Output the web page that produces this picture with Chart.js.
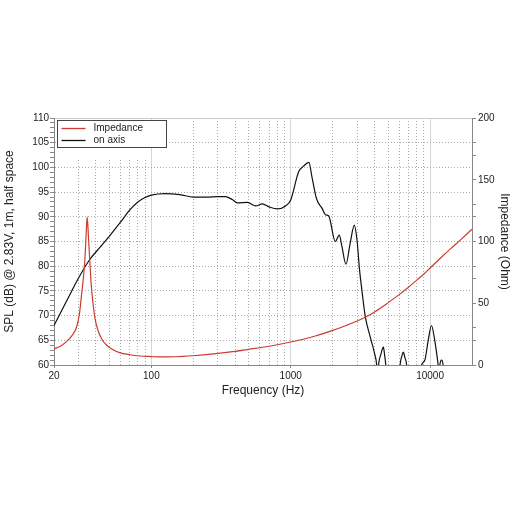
<!DOCTYPE html>
<html><head><meta charset="utf-8">
<script src="https://cdn.jsdelivr.net/npm/chart.js@4.4.0/dist/chart.umd.min.js"></script>
<style>html,body{margin:0;padding:0;background:#fff;}#wrap{width:512px;height:512px;}</style>
</head><body><div id="wrap"><canvas id="c" width="512" height="512"></canvas></div>
<script>
// ---- data ----
const seriesNames = ['Impedance', 'on axis'];

const splFreq = [20, 25, 30, 36, 43, 50, 60, 70, 80, 90, 100, 125, 160, 200, 250, 300, 340, 380, 415, 490, 560, 625, 700, 800, 920, 1000, 1140, 1240, 1350, 1420, 1530, 1680, 1775, 1870, 2090, 2230, 2330, 2490, 2670, 2860, 2990, 3120, 3240, 3430, 3720, 3990, 4140, 4200, 4270, 4450, 4624, 4720, 4810, 4900, 5500, 6000, 6095, 6300, 6430, 6600, 6790, 6900, 8000, 8600, 8690, 9180, 9700, 10240, 10800, 11200, 11430, 11600, 11750, 12080, 12400, 12600, 13000];
const splDb   = [68, 73.3, 77.6, 81.3, 83.9, 86.1, 88.9, 91.4, 93.0, 93.9, 94.4, 94.7, 94.5, 94.0, 94.0, 94.1, 94.1, 93.5, 92.8, 92.9, 92.2, 92.6, 92.0, 91.6, 92.2, 93.4, 99.1, 100.3, 101.0, 98.1, 93.7, 91.7, 90.4, 90.2, 85.0, 86.3, 84.0, 80.4, 84.6, 88.3, 85.3, 79.2, 75.2, 69.8, 65.7, 62.4, 60, 57, 60, 62.3, 63.6, 62, 60, 56, 50, 57, 60, 62, 62.6, 61.5, 60, 57, 50, 59, 60, 61, 65, 68, 65, 62, 60, 58.5, 60, 61, 60, 55, 50];

const impFreq = [20, 22, 24.6, 27, 29.1, 30.5, 31.6, 32.6, 33.3, 34, 34.6, 35.3, 36.1, 37, 38.1, 39.5, 41.3, 44, 47.5, 52, 59.2, 70, 82.6, 100, 115, 150, 197, 280, 382, 502, 700, 1000, 1500, 2000, 2500, 3000, 3500, 4000, 5000, 6000, 7000, 8000, 9000, 10000, 12000, 14000, 17000, 20000];
const impOhm  = [13, 15, 18.9, 24, 31, 42, 58, 72, 85, 105, 120, 105, 85, 65, 50, 37, 28.3, 21, 16.2, 13, 10, 8.3, 7.3, 6.8, 6.5, 6.7, 7.5, 9, 10.8, 12.7, 15.2, 18.6, 23.5, 28, 32, 35.6, 39.3, 43, 50.5, 57, 63, 68.5, 73.5, 78.5, 87, 94, 102.5, 110];

const xTickValues = [20, 30, 40, 50, 60, 70, 80, 90, 100, 200, 300, 400, 500, 600, 700, 800, 900, 1000, 2000, 3000, 4000, 5000, 6000, 7000, 8000, 9000, 10000, 20000];
const xTickLabels = [20, 100, 1000, 10000];
const xDecadeLines = [100, 1000, 10000];
const leftTicks = [60,61,62,63,64,65,66,67,68,69,70,71,72,73,74,75,76,77,78,79,80,81,82,83,84,85,86,87,88,89,90,91,92,93,94,95,96,97,98,99,100,101,102,103,104,105,106,107,108,109,110];
const leftTickLabels = [60, 65, 70, 75, 80, 85, 90, 95, 100, 105, 110];
const rightTicks = [0, 20, 30, 50, 70, 80, 100, 120, 130, 150, 170, 180, 200];
const rightTickLabels = [0, 50, 100, 150, 200];

const FONT = '"Liberation Sans", Arial, Helvetica, sans-serif';
const RED = '#cc3b30', BLACK = '#111111';

const boxLegend = {
  id: 'boxLegend',
  beforeDatasetsDraw(chart) {
    const {ctx, chartArea: a, scales: {x, y}} = chart;
    const x0 = x.getPixelForValue(25), x1 = x.getPixelForValue(95);
    ctx.save();
    ctx.fillStyle = '#fff';
    ctx.fillRect(x0, a.top + 1, x1 - x0, y.getPixelForValue(101.5) - a.top - 1);
    ctx.restore();
  },
  afterDatasetsDraw(chart) {
    const {ctx, chartArea: a} = chart;
    const bx = a.left + 3.5, by = a.top + 2.5, bw = 109, bh = 27;
    ctx.save();
    ctx.fillStyle = '#fff';
    ctx.fillRect(bx, by, bw, bh);
    ctx.strokeStyle = '#444';
    ctx.lineWidth = 1;
    ctx.strokeRect(bx, by, bw, bh);
    chart.data.datasets.forEach((ds, i) => {
      const yy = by + 8 + i * 12;
      ctx.strokeStyle = ds.borderColor;
      ctx.lineWidth = 1.3;
      ctx.beginPath(); ctx.moveTo(bx + 4, yy); ctx.lineTo(bx + 28, yy); ctx.stroke();
      ctx.fillStyle = '#222';
      ctx.font = '10px ' + FONT;
      ctx.textBaseline = 'middle';
      ctx.fillText(ds.label, bx + 36, yy);
    });
    ctx.restore();
  }
};

new Chart(document.getElementById('c'), {
  type: 'line',
  data: {
    datasets: [
      { label: seriesNames[0], yAxisID: 'y2', data: impFreq.map((f, i) => ({x: f, y: impOhm[i]})),
        borderColor: RED, borderWidth: 1.2, pointRadius: 0, cubicInterpolationMode: 'monotone', fill: false },
      { label: seriesNames[1], yAxisID: 'y', data: splFreq.map((f, i) => ({x: f, y: splDb[i]})),
        borderColor: BLACK, borderWidth: 1.2, pointRadius: 0, cubicInterpolationMode: 'monotone', fill: false }
    ]
  },
  options: {
    responsive: false, animation: false, devicePixelRatio: 1,
    layout: { padding: { top: 118, left: 0, right: 0, bottom: 0 } },
    plugins: { legend: { display: false }, tooltip: { enabled: false } },
    scales: {
      x: {
        type: 'logarithmic', min: 20, max: 20000,
        afterBuildTicks: s => { s.ticks = xTickValues.map(v => ({value: v})); },
        ticks: { autoSkip: false, maxRotation: 0, minRotation: 0, padding: 2, color: '#222',
          font: { size: 10, family: FONT },
          callback: v => xTickLabels.includes(v) ? String(v) : '' },
        grid: { lineWidth: 1, tickLength: 3,
          color: c => (c.tick && xDecadeLines.includes(c.tick.value)) ? '#d6d6d6' : '#aaaaaa',
          tickColor: c => (c.tick && xTickLabels.includes(c.tick.value)) ? '#888' : 'rgba(0,0,0,0)' },
        border: { color: '#888', width: 1, dash: c => (c.tick && xDecadeLines.includes(c.tick.value)) ? [] : [1, 2] },
        title: { display: true, text: 'Frequency (Hz)', color: '#222', font: { size: 12, family: FONT }, padding: { top: 0, bottom: 114 } },
        afterFit: s => { s.height = 147; }
      },
      y: {
        type: 'linear', position: 'left', min: 60, max: 110,
        afterBuildTicks: s => { s.ticks = leftTicks.map(v => ({value: v})); },
        ticks: { autoSkip: false, padding: 1, color: '#222', font: { size: 10, family: FONT },
          callback: v => leftTickLabels.includes(v) ? String(v) : '' },
        grid: { lineWidth: 1, tickLength: 4, tickColor: '#888',
          color: c => (c.tick && leftTickLabels.includes(c.tick.value)) ? (c.tick.value === 110 ? '#cccccc' : '#aaaaaa') : 'rgba(0,0,0,0)' },
        border: { color: '#888', width: 1, dash: c => (c.tick && c.tick.value === 110) ? [] : [1, 2] },
        title: { display: true, text: 'SPL (dB) @ 2.83V, 1m, half space', color: '#222', font: { size: 12, family: FONT }, padding: { top: 2, bottom: 0 } },
        afterFit: s => { s.width = 54; }
      },
      y2: {
        type: 'linear', position: 'right', min: 0, max: 200,
        afterBuildTicks: s => { s.ticks = rightTicks.map(v => ({value: v})); },
        ticks: { autoSkip: false, padding: 2, color: '#222', font: { size: 10, family: FONT },
          callback: v => rightTickLabels.includes(v) ? String(v) : '' },
        grid: { drawOnChartArea: false, tickLength: 4, tickColor: '#888' },
        border: { color: '#888', width: 1 },
        title: { display: true, text: 'Impedance (Ohm)', color: '#222', font: { size: 12, family: FONT }, padding: { top: 0, bottom: 0 } },
        afterFit: s => { s.width = 40; }
      }
    }
  },
  plugins: [boxLegend]
});
</script>
</body></html>
